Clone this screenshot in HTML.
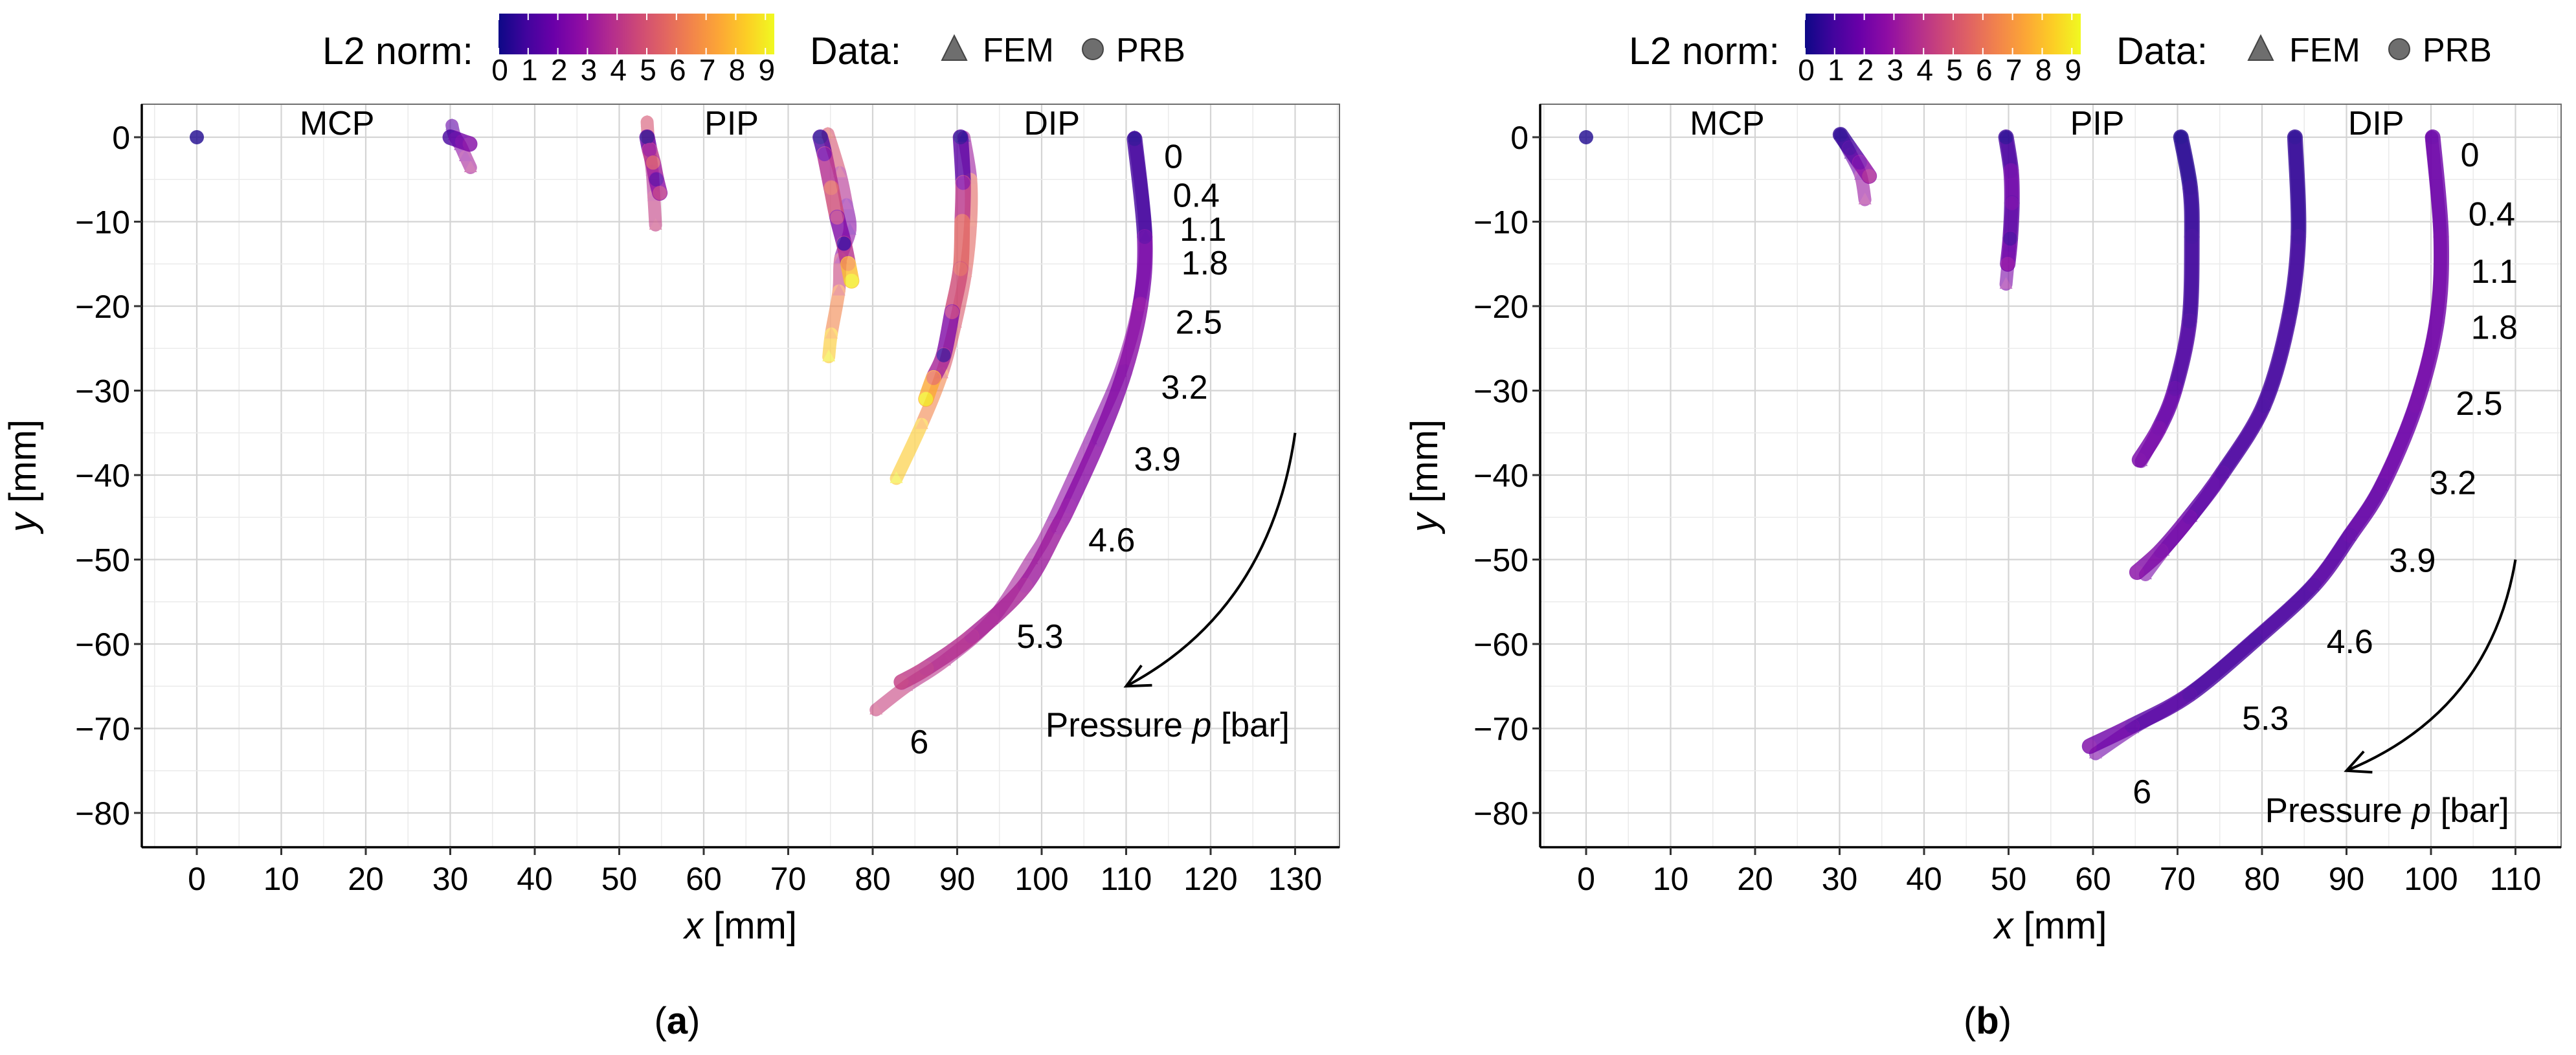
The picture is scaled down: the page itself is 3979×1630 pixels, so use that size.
<!DOCTYPE html>
<html><head><meta charset="utf-8"><style>
html,body{margin:0;padding:0;background:#fff}
svg{display:block}
text{font-family:"Liberation Sans",sans-serif;fill:#000}
</style></head><body>
<svg id="fig" width="3979" height="1630" viewBox="0 0 3979 1630" xmlns="http://www.w3.org/2000/svg">
<defs>
<linearGradient id="plasma" x1="0" x2="1" y1="0" y2="0">
<stop offset="0" stop-color="#0d0887"/><stop offset="0.1" stop-color="#41049d"/><stop offset="0.2" stop-color="#6a00a8"/><stop offset="0.3" stop-color="#8f0da4"/><stop offset="0.4" stop-color="#b12a90"/><stop offset="0.5" stop-color="#cc4778"/><stop offset="0.6" stop-color="#e16462"/><stop offset="0.7" stop-color="#f2844b"/><stop offset="0.8" stop-color="#fca636"/><stop offset="0.9" stop-color="#fcce25"/><stop offset="1" stop-color="#f0f921"/>
</linearGradient>
</defs>
</svg>
<script>
// ---- data: panel (a) ----
const aJ1x=[0], aJ1y=[0], aJ1c=[0.3];
const aJ2PRBx=[30,30.6,31.4,32.3], aJ2PRBy=[0,-0.2,-0.5,-0.8], aJ2PRBc=[1,1.5,2,2.5];
const aJ2FEMx=[30.2,30.5,31.2,31.8,32.4], aJ2FEMy=[1.4,0.2,-1,-2.3,-3.6], aJ2FEMc=[1.5,2,2.5,3,3.8];
const aJ3PRBx=[53.3,53.6,54,54.4,54.8], aJ3PRBy=[0,-1.5,-3,-5,-6.6], aJ3PRBc=[0.5,3,5,1.5,4];
const aJ3FEMx=[53.3,53.5,53.9,54.1,54.3], aJ3FEMy=[1.8,-1,-4,-7,-10.4], aJ3FEMc=[5,5,3.5,4,4.5];
const aJ4PRBx=[73.8,74.3,75.1,75.8,76.6,77.1,77.5], aJ4PRBy=[0,-2,-6,-9.5,-12.6,-15,-17], aJ4PRBc=[0.5,2,5.5,4,0.8,7,9];
const aJ4FEMx=[74.7,76.1,76.9,77.3,76.2,76,75.1,74.8], aJ4FEMy=[0.4,-4.2,-8,-11,-14.4,-18.2,-23.3,-26], aJ4FEMc=[5.5,4.5,3,2,3.5,5.5,7.5,9];
const aJ5PRBx=[90.4,90.7,90.6,90.4,89.4,88.4,87.2,86.3], aJ5PRBy=[0,-5.4,-10,-15.6,-20.7,-25.8,-28.5,-31], aJ5PRBc=[0.5,2.5,5.5,5.5,4,0.8,6,9];
const aJ5FEMx=[90.8,91.6,91.6,91,89.8,88.2,85.8,82.8], aJ5FEMy=[0,-5,-10,-16,-22,-28,-34,-40.4], aJ5FEMc=[0.8,5.5,5.8,5.5,5,5.5,7.5,9];
const aTipPRBx=[111,112.2,111.7,109.8,106.8,103.2,101.9,98,91.7,86.3,83.4], aTipPRBy=[-0.2,-11.8,-19.8,-27.8,-35.8,-43.7,-46.2,-53.1,-59.1,-62.9,-64.5], aTipPRBc=[0.5,1.5,2.8,2.5,2.5,2.8,3,3.3,3.6,4,4.3];
const aTipFEMx=[111,112.3,111.5,109.3,105.8,101,98.8,94.1,88.5,84,80.4], aTipFEMy=[0,-11.8,-19.8,-27.8,-35.8,-46.2,-50,-57.1,-62,-65,-67.8], aTipFEMc=[0.5,1.8,3,2.6,2.6,3,3.2,3.5,3.8,4.2,4.6];
// ---- data: panel (b) ----
const bJ1x=[0], bJ1y=[0], bJ1c=[0.3];
const bJ2PRBx=[30.1,31.2,32.4,33.5], bJ2PRBy=[0.3,-1.3,-3,-4.6], bJ2PRBc=[0.5,1,2,3.5];
const bJ2FEMx=[30.1,31.3,32.5,33], bJ2FEMy=[0.3,-2,-4.5,-7.4], bJ2FEMc=[0.5,1.2,2.5,3.5];
const bJ3PRBx=[49.7,50.3,50.4,50.2,49.9], bJ3PRBy=[0,-4,-7.8,-12,-15], bJ3PRBc=[0.5,1.8,2,1,2.8];
const bJ3FEMx=[49.7,50.3,50.4,50.1,49.7], bJ3FEMy=[0,-4,-7.8,-13,-17.4], bJ3FEMc=[0.5,1.8,2,1.5,3];
const bJ4PRBx=[70.4,71.5,71.7,71.4,69.7,67.8,65.5], bJ4PRBy=[0,-6,-11.8,-21.8,-29.8,-34.5,-38.2], bJ4PRBc=[0.3,0.6,0.8,1,1.5,2,2.2];
const bJ4FEMx=[70.4,71.5,71.7,71.4,69.7,67.8,65.7], bJ4FEMy=[0,-6,-11.8,-21.8,-29.8,-34.5,-38.4], bJ4FEMc=[0.3,0.6,0.8,1,1.5,2,2.2];
const bJ5PRBx=[83.9,84.3,83.1,80.2,75.3,71.4,68,65.2], bJ5PRBy=[0,-11.8,-21.8,-31.8,-39.8,-45,-49,-51.5], bJ5PRBc=[0.5,0.8,1,1,1.3,1.8,2.2,2.6];
const bJ5FEMx=[83.9,84.3,83.1,80.2,75.3,71.6,68.3,66.2], bJ5FEMy=[0,-11.8,-21.8,-31.8,-39.8,-45,-49,-51.8], bJ5FEMc=[0.5,0.8,1,1,1.3,1.8,2,2.3];
const bTipPRBx=[100.2,101.2,100.7,98.2,94.2,90.4,86.1,79.2,71.4,64.6,59.6], bTipPRBy=[0,-11.8,-21.8,-31.8,-41.3,-47.2,-53.1,-59.5,-66,-69.7,-72.1], bTipPRBc=[1.8,2,2,2,1.8,1.6,1.3,1,1.2,1.6,2.3];
const bTipFEMx=[100.1,101.1,100.6,98.1,94.1,90.3,86,79.1,71.3,64.7,60.3], bTipFEMy=[0,-11.8,-21.8,-31.8,-41.3,-47.2,-53.1,-59.5,-66,-70,-73], bTipFEMc=[1.8,2,2,2,1.8,1.6,1.3,1,1.2,1.6,2.3];
// tick labels & annotations
const aXTicks=[0,10,20,30,40,50,60,70,80,90,100,110,120,130];
const bXTicks=[0,10,20,30,40,50,60,70,80,90,100,110];
const yTicks=[0,-10,-20,-30,-40,-50,-60,-70,-80];
const cbTicks=[0,1,2,3,4,5,6,7,8,9];
const aPLabels=["0","0.4","1.1","1.8","2.5","3.2","3.9","4.6","5.3","6"];
const aPLx=[115.6,118.3,119.1,119.3,118.6,116.9,113.7,108.3,99.8,85.5];
const aPLy=[-2.2,-6.8,-10.8,-14.8,-21.8,-29.5,-38,-47.6,-59,-71.5];
const bPLx=[104.6,107.2,107.5,107.5,105.7,102.6,97.8,90.4,80.4,65.8];
const bPLy=[-2,-9,-15.8,-22.4,-31.4,-40.8,-50,-59.6,-68.7,-77.4];
const jointNames=["MCP","PIP","DIP"];
const aJointX=[16.6,63.3,101.2], bJointX=[16.7,60.5,93.5];

const NS="http://www.w3.org/2000/svg";
const svg=document.getElementById('fig');
function mk(tag,attrs,parent){const e=document.createElementNS(NS,tag);for(const k in attrs)e.setAttribute(k,attrs[k]);(parent||svg).appendChild(e);return e;}
const stops=[[13,8,135],[65,4,157],[106,0,168],[143,13,164],[177,42,144],[204,71,120],[225,100,98],[242,132,75],[252,166,54],[252,206,37],[240,249,33]];
const CMAX=9.3;
function col(v){let t=Math.max(0,Math.min(1,v/CMAX))*10;let i=Math.min(9,Math.floor(t)),f=t-i;const a=stops[i],b=stops[i+1];return `rgb(${a.map((c,k)=>Math.round(c+(b[k]-c)*f)).join(',')})`;}

const Y0=212, S=13.05, TOP=161, BOT=1309;
function panel(id,x0,left,right,xTicks,xMinorMin,xMinorMax,series,pLx,pLy,jointX,arrow,legendX,titleLbl,titleX,yTitleX){
  const g=mk('g',{});
  
  
  const X=v=>x0+v*S, Y=v=>Y0-v*S;
  const grid=mk('g',{},g);
  
  
  for(let v=xMinorMin;v<=xMinorMax;v+=5){mk('line',{x1:X(v),x2:X(v),y1:TOP,y2:BOT,stroke:v%10===0?'#d4d4d4':'#ebebeb','stroke-width':v%10===0?2.2:1.6},grid);}
  for(let v=0;v>=-80;v-=5){mk('line',{x1:left,x2:right,y1:Y(v),y2:Y(v),stroke:v%10===0?'#d4d4d4':'#ebebeb','stroke-width':v%10===0?2.2:1.6},grid);}
  mk('rect',{x:left,y:TOP,width:right-left,height:BOT-TOP,fill:'none',stroke:'#6e6e6e','stroke-width':2},g);
  mk('line',{x1:left,x2:right,y1:BOT,y2:BOT,stroke:'#000','stroke-width':3.5},g);
  mk('line',{x1:left,x2:left,y1:TOP,y2:BOT,stroke:'#000','stroke-width':3.5},g);
  xTicks.forEach(v=>{mk('line',{x1:X(v),x2:X(v),y1:BOT,y2:BOT+12,stroke:'#333','stroke-width':3},g);
    const t=mk('text',{x:X(v),y:1375,'font-size':50,'text-anchor':'middle'},g);t.textContent=v;
    
    });
  yTicks.forEach(v=>{mk('line',{x1:left-12,x2:left,y1:Y(v),y2:Y(v),stroke:'#333','stroke-width':3},g);
    const t=mk('text',{x:left-18,y:Y(v)+18,'font-size':50,'text-anchor':'end'},g);t.textContent=v===0?'0':'\u2212'+(-v);
    
    });
  const xt=mk('text',{x:(left+right)/2,y:1450,'font-size':58,'text-anchor':'middle'},g);
  xt.innerHTML='<tspan font-style="italic">x</tspan> [mm]';
  
  
  const yt=mk('text',{x:yTitleX,y:735,'font-size':58,'text-anchor':'middle',transform:`rotate(-90 ${yTitleX} 735)`},g);
  yt.innerHTML='<tspan font-style="italic">y</tspan> [mm]';
  
  
  series.forEach(s=>{
    const sg=mk('g',{opacity:s.fem?0.6:0.8},g);
    
    
    const w=s.fem?20:24;
    const P=s.x.map((xv,i)=>[X(xv),Y(s.y[i])]);
    for(let i=0;i+1<P.length;i++){
      const p0=P[Math.max(0,i-1)],p1=P[i],p2=P[i+1],p3=P[Math.min(P.length-1,i+2)];
      const c1=[p1[0]+(p2[0]-p0[0])/6,p1[1]+(p2[1]-p0[1])/6], c2=[p2[0]-(p3[0]-p1[0])/6,p2[1]-(p3[1]-p1[1])/6];
      mk('path',{d:`M${p1[0]},${p1[1]} C${c1[0]},${c1[1]} ${c2[0]},${c2[1]} ${p2[0]},${p2[1]}`,fill:'none',stroke:col((s.c[i]+s.c[i+1])/2),'stroke-width':w,'stroke-linecap':'round'},sg);
    }
    P.forEach((p,i)=>{
      const [px,py]=p;
      let m;
      if(s.fem){m=mk('polygon',{points:`${px},${py-11} ${px-10},${py+7} ${px+10},${py+7}`,fill:col(s.c[i])},sg);}
      else{m=mk('circle',{cx:px,cy:py,r:11,fill:col(s.c[i])},sg);}
      
      
    });
  });
  jointNames.forEach((n,i)=>{const t=mk('text',{x:X(jointX[i]),y:208,'font-size':52,'text-anchor':'middle'},g);t.textContent=n;
    
    });
  aPLabels.forEach((n,i)=>{const t=mk('text',{x:X(pLx[i]),y:Y(pLy[i])+19,'font-size':52,'text-anchor':'middle'},g);t.textContent=n;
    
    });
  const [sx,sy,ex,ey,cx,cy,lx,ly]=arrow;
  const ar=mk('path',{d:`M${X(sx)},${Y(sy)} Q${X(cx)},${Y(cy)} ${X(ex)},${Y(ey)}`,fill:'none',stroke:'#000','stroke-width':4},g);
  
  
  const ang=Math.atan2(Y(ey)-Y(cy),X(ex)-X(cx));
  const hx=X(ex),hy=Y(ey),L=40;
  mk('path',{d:`M${hx-L*Math.cos(ang-0.45)},${hy-L*Math.sin(ang-0.45)} L${hx},${hy} L${hx-L*Math.cos(ang+0.45)},${hy-L*Math.sin(ang+0.45)}`,fill:'none',stroke:'#000','stroke-width':4},g);
  const pl=mk('text',{x:X(lx),y:Y(ly)+19,'font-size':53,'text-anchor':'middle'},g);
  pl.innerHTML='Pressure <tspan font-style="italic">p</tspan> [bar]';
  
  
  const lg=mk('g',{},g);
  
  
  const L0=legendX;
  const lt=mk('text',{x:L0,y:99,'font-size':59},lg);lt.textContent='L2 norm:';
  const cbx=L0+272, cbw=426;
  const cb=mk('rect',{x:cbx,y:21,width:cbw,height:63,fill:'url(#plasma)'},lg);
  
  
  const per=(cbw)/CMAX;
  cbTicks.forEach(v=>{const tx=cbx+v*per;
    mk('line',{x1:tx,x2:tx,y1:21,y2:31,stroke:'#fff','stroke-width':2},lg);
    mk('line',{x1:tx,x2:tx,y1:74,y2:84,stroke:'#fff','stroke-width':2},lg);
    const t=mk('text',{x:tx+2,y:124,'font-size':46,'text-anchor':'middle'},lg);t.textContent=v;
    
    });
  const dt=mk('text',{x:L0+753,y:99,'font-size':59},lg);dt.textContent='Data:';
  const tri=mk('polygon',{points:`${L0+976},${55} ${L0+957},${93} ${L0+995},${93}`,fill:'#555','fill-opacity':0.85,stroke:'#444','stroke-width':2},lg);
  
  
  const ft=mk('text',{x:L0+1020,y:95,'font-size':52},lg);ft.textContent='FEM';
  const ci=mk('circle',{cx:L0+1190,cy:76,r:16,fill:'#555','fill-opacity':0.85,stroke:'#444','stroke-width':2},lg);
  
  
  const pt=mk('text',{x:L0+1226,y:95,'font-size':52},lg);pt.textContent='PRB';
  const tt=mk('text',{x:titleX,y:1597,'font-size':58,'text-anchor':'middle','font-family':'Liberation Serif, serif'},g);
  tt.innerHTML='(<tspan font-weight="bold">'+titleLbl+'</tspan>)';
  
  
}
const aSeries=[
 {name:'a-mcp-base',x:aJ1x,y:aJ1y,c:aJ1c},
 {name:'a-j2-fem',fem:1,x:aJ2FEMx,y:aJ2FEMy,c:aJ2FEMc},{name:'a-j2-prb',x:aJ2PRBx,y:aJ2PRBy,c:aJ2PRBc},
 {name:'a-j3-fem',fem:1,x:aJ3FEMx,y:aJ3FEMy,c:aJ3FEMc},{name:'a-j3-prb',x:aJ3PRBx,y:aJ3PRBy,c:aJ3PRBc},
 {name:'a-j4-fem',fem:1,x:aJ4FEMx,y:aJ4FEMy,c:aJ4FEMc},{name:'a-j4-prb',x:aJ4PRBx,y:aJ4PRBy,c:aJ4PRBc},
 {name:'a-j5-fem',fem:1,x:aJ5FEMx,y:aJ5FEMy,c:aJ5FEMc},{name:'a-j5-prb',x:aJ5PRBx,y:aJ5PRBy,c:aJ5PRBc},
 {name:'a-tip-fem',fem:1,x:aTipFEMx,y:aTipFEMy,c:aTipFEMc},{name:'a-tip-prb',x:aTipPRBx,y:aTipPRBy,c:aTipPRBc}];
const bSeries=[
 {name:'b-mcp-base',x:bJ1x,y:bJ1y,c:bJ1c},
 {name:'b-j2-fem',fem:1,x:bJ2FEMx,y:bJ2FEMy,c:bJ2FEMc},{name:'b-j2-prb',x:bJ2PRBx,y:bJ2PRBy,c:bJ2PRBc},
 {name:'b-j3-fem',fem:1,x:bJ3FEMx,y:bJ3FEMy,c:bJ3FEMc},{name:'b-j3-prb',x:bJ3PRBx,y:bJ3PRBy,c:bJ3PRBc},
 {name:'b-j4-fem',fem:1,x:bJ4FEMx,y:bJ4FEMy,c:bJ4FEMc},{name:'b-j4-prb',x:bJ4PRBx,y:bJ4PRBy,c:bJ4PRBc},
 {name:'b-j5-fem',fem:1,x:bJ5FEMx,y:bJ5FEMy,c:bJ5FEMc},{name:'b-j5-prb',x:bJ5PRBx,y:bJ5PRBy,c:bJ5PRBc},
 {name:'b-tip-fem',fem:1,x:bTipFEMx,y:bTipFEMy,c:bTipFEMc},{name:'b-tip-prb',x:bTipPRBx,y:bTipPRBy,c:bTipPRBc}];
panel('a',304,219,2069,aXTicks,-5,135,aSeries,aPLx,aPLy,aJointX,[130,-35,110,-65,127,-56,114.9,-69.5],498,'a',1046,55);
panel('b',2450,2379,3956,bXTicks,-5,115,bSeries,bPLx,bPLy,bJointX,[110,-50,90,-75,107,-68,94.8,-79.6],2516,'b',3070,2220);
</script>
</body></html>
